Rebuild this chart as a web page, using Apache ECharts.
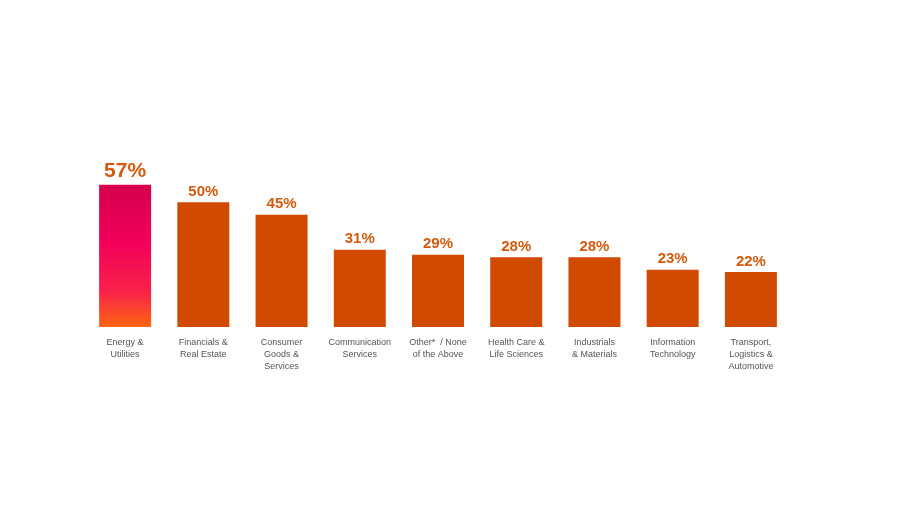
<!DOCTYPE html>
<html>
<head>
<meta charset="utf-8">
<script src="https://cdn.jsdelivr.net/npm/echarts@6/dist/echarts.min.js"></script>
<style>html,body{margin:0;background:#fff}#main{width:899px;height:506px}</style>
</head>
<body>
<div id="main"></div>
<script>
var categories = ['Energy &\nUtilities', 'Financials &\nReal Estate', 'Consumer\nGoods &\nServices', 'Communication\nServices', 'Other*  / None\nof the Above', 'Health Care &\nLife Sciences', 'Industrials\n& Materials', 'Information\nTechnology', 'Transport,\nLogistics &\nAutomotive'];
var values = [57, 50, 45, 31, 29, 28, 28, 23, 22];

var chart = echarts.init(document.getElementById('main'));
var data = values.map(function (v, i) {
    if (i === 0) {
        return {
            value: v,
            itemStyle: {
                color: new echarts.graphic.LinearGradient(0, 0, 0, 1, [
                    {offset: 0, color: '#d4004c'},
                    {offset: 0.4, color: '#f2005a'},
                    {offset: 0.75, color: '#f8224a'},
                    {offset: 1, color: '#fd6410'}
                ])
            },
            label: {fontSize: 21}
        };
    }
    return v;
});
chart.setOption({
    grid: {left: 86, right: 109, top: 100, bottom: 179},
    xAxis: {
        type: 'category',
        data: categories,
        axisLine: {show: false},
        axisTick: {show: false},
        axisLabel: {color: '#555', fontSize: 9, lineHeight: 12, margin: 10, interval: 0, fontFamily: 'Liberation Sans'}
    },
    yAxis: {type: 'value', min: 0, max: 91, show: false},
    series: [{
        type: 'bar',
        data: data,
        barWidth: 52,
        itemStyle: {color: '#d04a02'},
        label: {
            show: true,
            position: 'top',
            distance: 3,
            formatter: '{c}%',
            color: '#d45a0e',
            fontWeight: 'bold',
            fontSize: 15,
            fontFamily: 'Liberation Sans'
        }
    }]
});
</script>
</body>
</html>
